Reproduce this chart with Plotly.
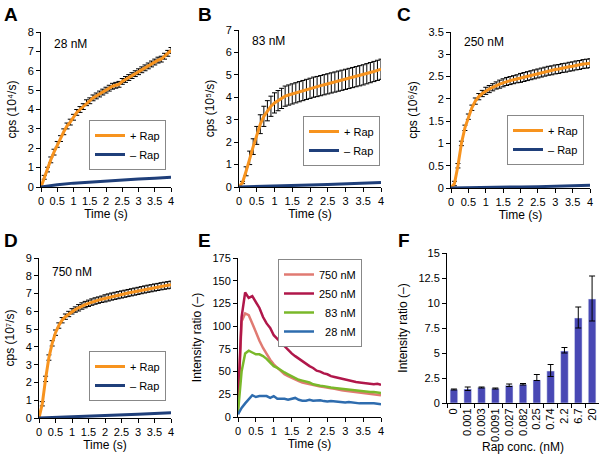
import plotly.graph_objects as go

# time axis (s) for the kinetic traces
time = [round(i * 0.1, 1) for i in range(41)]
time_coarse = [0, 0.5, 1, 1.5, 2, 2.5, 3, 3.5, 4]

# A: 28 nM (x10^4 /s)
a_plus = [0, 0.5, 0.9, 1.4, 1.8, 2.2, 2.5, 2.85, 3.15, 3.35, 3.6, 3.85, 4.0, 4.15, 4.35, 4.45,
          4.6, 4.7, 4.8, 4.9, 5.0, 5.1, 5.2, 5.25, 5.3, 5.45, 5.55, 5.65, 5.75, 5.85, 5.95,
          6.05, 6.15, 6.25, 6.35, 6.45, 6.55, 6.6, 6.75, 6.9, 7.05]
a_err = [0, 0.1, 0.12, 0.15, 0.15, 0.15, 0.15, 0.15, 0.15, 0.15, 0.15, 0.15, 0.15, 0.15, 0.15, 0.15,
         0.15, 0.15, 0.15, 0.15, 0.15, 0.15, 0.15, 0.15, 0.15, 0.15, 0.15, 0.15, 0.15, 0.15, 0.15,
         0.15, 0.15, 0.15, 0.15, 0.15, 0.15, 0.15, 0.15, 0.15, 0.15]
a_minus = [0, 0.12, 0.2, 0.26, 0.32, 0.37, 0.41, 0.45, 0.5]

# B: 83 nM (x10^5 /s)
b_plus = [0, 0.2, 0.7, 1.3, 1.8, 2.3, 2.8, 3.15, 3.4, 3.6, 3.75, 3.85, 3.95, 4.05, 4.1, 4.15,
          4.2, 4.25, 4.3, 4.35, 4.4, 4.45, 4.48, 4.52, 4.56, 4.6, 4.64, 4.68, 4.72, 4.76, 4.8,
          4.84, 4.88, 4.92, 4.96, 5.0, 5.05, 5.1, 5.15, 5.2, 5.25]
b_err = [0, 0.05, 0.2, 0.3, 0.35, 0.4, 0.42, 0.45, 0.45, 0.45, 0.45, 0.45, 0.45, 0.45, 0.45, 0.45,
         0.45, 0.45, 0.45, 0.45, 0.45, 0.45, 0.45, 0.45, 0.45, 0.45, 0.45, 0.45, 0.45, 0.45, 0.45,
         0.45, 0.45, 0.45, 0.45, 0.45, 0.45, 0.45, 0.45, 0.45, 0.45]
b_minus = [0, 0.03, 0.05, 0.07, 0.09, 0.11, 0.14, 0.17, 0.2]

# C: 250 nM (x10^6 /s)
c_plus = [0, 0.1, 0.5, 1.0, 1.35, 1.6, 1.8, 1.95, 2.05, 2.12, 2.18, 2.22, 2.26, 2.3, 2.33, 2.36,
          2.39, 2.41, 2.43, 2.45, 2.47, 2.49, 2.51, 2.53, 2.55, 2.57, 2.59, 2.61, 2.63, 2.64, 2.66,
          2.67, 2.69, 2.7, 2.72, 2.73, 2.75, 2.76, 2.78, 2.79, 2.8]
c_err = [0, 0.05, 0.05, 0.05, 0.06, 0.06, 0.06, 0.07, 0.07, 0.07, 0.08, 0.08, 0.08, 0.08, 0.09, 0.09,
         0.09, 0.09, 0.09, 0.09, 0.1, 0.1, 0.1, 0.1, 0.1, 0.1, 0.1, 0.1, 0.1, 0.1, 0.1,
         0.1, 0.1, 0.1, 0.1, 0.1, 0.1, 0.1, 0.1, 0.1, 0.1]
c_minus = [0, 0.01, 0.015, 0.02, 0.025, 0.03, 0.04, 0.05, 0.06]

# D: 750 nM (x10^7 /s)
d_plus = [0, 0.8, 2.2, 3.4, 4.2, 4.8, 5.2, 5.5, 5.7, 5.85, 6.0, 6.1, 6.2, 6.3, 6.38, 6.45,
          6.52, 6.58, 6.63, 6.68, 6.73, 6.78, 6.83, 6.87, 6.91, 6.95, 6.99, 7.03, 7.07, 7.11, 7.15,
          7.19, 7.23, 7.27, 7.3, 7.34, 7.37, 7.41, 7.44, 7.47, 7.5]
d_err = [0, 0.12, 0.15, 0.15, 0.15, 0.15, 0.15, 0.15, 0.15, 0.15, 0.15, 0.15, 0.18, 0.18, 0.18, 0.18,
         0.18, 0.18, 0.18, 0.18, 0.2, 0.2, 0.2, 0.2, 0.2, 0.2, 0.2, 0.2, 0.2, 0.2, 0.2,
         0.2, 0.2, 0.2, 0.2, 0.2, 0.2, 0.2, 0.2, 0.2, 0.2]
d_minus = [0, 0.03, 0.06, 0.09, 0.13, 0.17, 0.21, 0.26, 0.3]

# E: intensity ratio
e_750 = [10, 105, 114, 112, 103, 93, 84, 76, 69, 63, 58, 54, 50, 47, 45, 43, 41, 39.5, 38, 37, 36,
         35, 34, 33.5, 33, 32, 31.5, 31, 30, 29.5, 29, 28.5, 28, 27.5, 27, 26.5, 26, 25.5, 25, 24.5, 24]
e_250 = [15, 110, 137, 131, 133, 127, 120, 110, 103, 98, 90, 86, 82, 77, 73, 70, 67, 64, 61, 58, 56,
         54, 51, 50, 48, 47, 45, 44, 43, 42, 41, 40, 39, 38.5, 38, 37.5, 37, 36.5, 36, 36.5, 35.5]
e_83 = [5, 50, 70, 73, 71, 69, 69, 67, 64, 60, 56, 54, 51, 49, 47, 45, 43, 41, 40, 39, 38,
        36, 35, 34.5, 34, 33, 32.5, 32, 31.5, 31, 30.5, 30, 29.5, 29, 29, 28.5, 28, 27.5, 27.5, 27, 26.5]
e_28 = [3, 10, 15, 20, 24, 22, 23, 23, 23, 21, 23, 20, 20, 20, 19, 20, 21, 19, 18, 18, 19,
        18, 18, 18.5, 17.5, 17, 17.5, 17, 17, 16, 16, 16.5, 16, 15, 15, 15, 15, 15.5, 15, 14.5, 14]

# F: rapamycin titration
rap_conc = ["0", "0.001", "0.003", "0.0091", "0.027", "0.082", "0.25", "0.74", "2.2", "6.7", "20"]
ratio = [1.35, 1.4, 1.55, 1.45, 1.75, 1.85, 2.3, 3.2, 5.2, 8.5, 10.4]
ratio_up = [0.05, 0.2, 0.05, 0.05, 0.15, 0.1, 0.55, 0.65, 0.35, 1.1, 2.3]
ratio_dn = [0.05, 0.15, 0.05, 0.05, 0.1, 0.05, 0.05, 0.55, 0.2, 1.0, 2.2]

ORANGE = "#F7931E"
NAVY = "#1F3F7A"
FONT = "Liberation Sans, Arial, sans-serif"

fig = go.Figure()

panels = [
    ("", a_plus, a_err, a_minus, "legend"),
    ("2", b_plus, b_err, b_minus, "legend2"),
    ("3", c_plus, c_err, c_minus, "legend3"),
    ("4", d_plus, d_err, d_minus, "legend4"),
]
for ax, yp, ye, ym, leg in panels:
    fig.add_trace(go.Scatter(x=time, y=yp, mode="markers", marker=dict(size=0.1, color="black"),
                             error_y=dict(type="data", array=ye, color="black", thickness=1, width=2.5),
                             showlegend=False, xaxis="x" + ax, yaxis="y" + ax, hoverinfo="skip"))
    fig.add_trace(go.Scatter(x=time, y=yp, mode="lines", name="+ Rap", line=dict(color=ORANGE, width=3),
                             xaxis="x" + ax, yaxis="y" + ax, legend=leg))
    fig.add_trace(go.Scatter(x=time_coarse, y=ym, mode="lines", name="\u2013 Rap",
                             line=dict(color=NAVY, width=3), xaxis="x" + ax, yaxis="y" + ax, legend=leg))

for name, ys, col in [("750 nM", e_750, "#E07A72"), ("250 nM", e_250, "#B0174A"),
                      ("  83 nM", e_83, "#7AB82A"), ("  28 nM", e_28, "#2E6CAE")]:
    fig.add_trace(go.Scatter(x=time, y=ys, mode="lines", name=name, line=dict(color=col, width=2.5),
                             xaxis="x5", yaxis="y5", legend="legend5"))

fig.add_trace(go.Bar(x=rap_conc, y=ratio, marker_color="#4848B4", width=0.55, showlegend=False,
                     error_y=dict(type="data", array=ratio_up, arrayminus=ratio_dn, symmetric=False,
                                  color="black", thickness=1, width=3),
                     xaxis="x6", yaxis="y6"))

axis_style = dict(showline=True, linecolor="black", linewidth=1, ticks="outside", ticklen=4,
                  tickcolor="black", showgrid=False, zeroline=False, automargin=False,
                  tickfont=dict(family=FONT, size=11, color="black"))
title_font = dict(family=FONT, size=12, color="black")


def px_x(a, b):
    return [a / 600, b / 600]


def px_y(top, bot):
    return [1 - bot / 454, 1 - top / 454]


time_x = dict(axis_style, range=[0, 4], dtick=0.5, title=dict(text="Time (s)", font=title_font, standoff=1))
layout_axes = {
    "xaxis": dict(time_x, domain=px_x(41, 171), anchor="y"),
    "yaxis": dict(axis_style, domain=px_y(32, 187), range=[0, 8], dtick=1, anchor="x",
                  title=dict(text="cps (10\u2074/s)", font=title_font, standoff=8)),
    "xaxis2": dict(time_x, domain=px_x(239, 381), anchor="y2"),
    "yaxis2": dict(axis_style, domain=px_y(30, 187), range=[0, 7], dtick=1, anchor="x2",
                   title=dict(text="cps (10\u2075/s)", font=title_font, standoff=8)),
    "xaxis3": dict(time_x, domain=px_x(451, 590), anchor="y3"),
    "yaxis3": dict(axis_style, domain=px_y(32, 188), range=[0, 3.5], dtick=0.5, anchor="x3",
                   title=dict(text="cps (10\u2076/s)", font=title_font, standoff=8)),
    "xaxis4": dict(time_x, domain=px_x(39, 171), anchor="y4"),
    "yaxis4": dict(axis_style, domain=px_y(258, 418), range=[0, 9], dtick=1, anchor="x4",
                   title=dict(text="cps (10\u2077/s)", font=title_font, standoff=8)),
    "xaxis5": dict(time_x, domain=px_x(238, 381), anchor="y5"),
    "yaxis5": dict(axis_style, domain=px_y(258, 417), range=[0, 175], dtick=25, anchor="x5",
                   title=dict(text="Intensity ratio (\u2013)", font=title_font, standoff=8)),
    "xaxis6": dict(axis_style, domain=px_x(447, 599), anchor="y6", tickangle=-90, tickson="boundaries",
                   range=[-0.5, 10.5],
                   title=dict(text="Rap conc. (nM)", font=title_font, standoff=0)),
    "yaxis6": dict(axis_style, domain=px_y(253, 403), range=[0, 15], dtick=2.5, anchor="x6",
                   title=dict(text="Intensity ratio (\u2013)", font=title_font, standoff=8)),
}

leg_style = dict(bgcolor="white", bordercolor="#888888", borderwidth=1,
                 font=dict(family=FONT, size=11, color="black"), xanchor="right", yanchor="top",
                 tracegroupgap=0, itemwidth=30)
fig.update_layout(
    width=600, height=454, margin=dict(l=0, r=0, t=0, b=0),
    paper_bgcolor="white", plot_bgcolor="white",
    font=dict(family=FONT, color="black"),
    legend=dict(leg_style, x=166 / 600, y=1 - 120 / 454),
    legend2=dict(leg_style, x=380 / 600, y=1 - 116 / 454),
    legend3=dict(leg_style, x=584 / 600, y=1 - 115 / 454),
    legend4=dict(leg_style, x=166 / 600, y=1 - 351 / 454),
    legend5=dict(leg_style, x=362 / 600, y=1 - 259 / 454),
    **layout_axes,
)

# panel letters and concentration labels
for letter, x, y in [("A", 2, 2), ("B", 196, 2), ("C", 395, 2), ("D", 2, 228), ("E", 196, 228), ("F", 396, 228)]:
    fig.add_annotation(text="<b>" + letter + "</b>", x=x / 600, y=1 - y / 454, xref="paper", yref="paper",
                       xanchor="left", yanchor="top", showarrow=False,
                       font=dict(family=FONT, size=19, color="black"))
for label, x, y in [("28 nM", 52, 44), ("83 nM", 250, 41), ("250 nM", 462, 42), ("750 nM", 50, 272)]:
    fig.add_annotation(text=label, x=x / 600, y=1 - y / 454, xref="paper", yref="paper",
                       xanchor="left", yanchor="middle", showarrow=False,
                       font=dict(family=FONT, size=12, color="black"))

# drop the browser's default body margin so the 600x454 figure fills the window
fig.write_html("out.html", config={"displayModeBar": False},
               post_script="document.body.style.margin='0';")
